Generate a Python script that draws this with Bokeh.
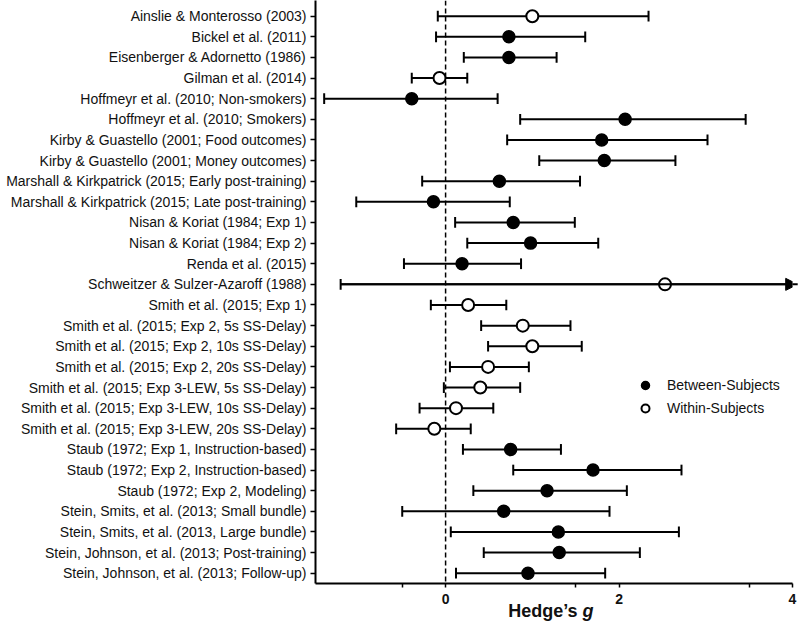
from bokeh.plotting import figure
from bokeh.layouts import column
from bokeh.models import (Range1d, FixedTicker, Span, Arrow, NormalHead, Legend,
                          LegendItem, ColumnDataSource)
from bokeh.core.properties import value
from bokeh.embed import file_html
from bokeh.resources import INLINE

studies = [
    "Ainslie & Monterosso (2003)",
    "Bickel et al. (2011)",
    "Eisenberger & Adornetto (1986)",
    "Gilman et al. (2014)",
    "Hoffmeyr et al. (2010; Non-smokers)",
    "Hoffmeyr et al. (2010; Smokers)",
    "Kirby & Guastello (2001; Food outcomes)",
    "Kirby & Guastello (2001; Money outcomes)",
    "Marshall & Kirkpatrick (2015; Early post-training)",
    "Marshall & Kirkpatrick (2015; Late post-training)",
    "Nisan & Koriat (1984; Exp 1)",
    "Nisan & Koriat (1984; Exp 2)",
    "Renda et al. (2015)",
    "Schweitzer & Sulzer-Azaroff (1988)",
    "Smith et al. (2015; Exp 1)",
    "Smith et al. (2015; Exp 2, 5s SS-Delay)",
    "Smith et al. (2015; Exp 2, 10s SS-Delay)",
    "Smith et al. (2015; Exp 2, 20s SS-Delay)",
    "Smith et al. (2015; Exp 3-LEW, 5s SS-Delay)",
    "Smith et al. (2015; Exp 3-LEW, 10s SS-Delay)",
    "Smith et al. (2015; Exp 3-LEW, 20s SS-Delay)",
    "Staub (1972; Exp 1, Instruction-based)",
    "Staub (1972; Exp 2, Instruction-based)",
    "Staub (1972; Exp 2, Modeling)",
    "Stein, Smits, et al. (2013; Small bundle)",
    "Stein, Smits, et al. (2013, Large bundle)",
    "Stein, Johnson, et al. (2013; Post-training)",
    "Stein, Johnson, et al. (2013; Follow-up)",
]
hedges_g = [1.00, 0.73, 0.73, -0.07, -0.39, 2.07, 1.80, 1.83, 0.62, -0.14,
            0.78, 0.98, 0.19, 2.53, 0.26, 0.89, 1.00, 0.49, 0.40, 0.12,
            -0.13, 0.75, 1.70, 1.17, 0.67, 1.30, 1.31, 0.95]
ci_low = [-0.09, -0.11, 0.21, -0.39, -1.40, 0.86, 0.71, 1.08, -0.27, -1.03,
          0.11, 0.25, -0.48, -1.21, -0.17, 0.41, 0.49, 0.05, -0.02, -0.30,
          -0.57, 0.20, 0.78, 0.32, -0.50, 0.06, 0.44, 0.12]
ci_high = [2.34, 1.61, 1.28, 0.25, 0.60, 3.46, 3.02, 2.65, 1.55, 0.74,
           1.49, 1.76, 0.87, 6.27, 0.70, 1.44, 1.57, 0.96, 0.86, 0.55,
           0.29, 1.33, 2.72, 2.09, 1.89, 2.69, 2.24, 1.84]
design = ["W", "B", "B", "W", "B", "B", "B", "B", "B", "B",
          "B", "B", "B", "W", "W", "W", "W", "W", "W", "W",
          "W", "B", "B", "B", "B", "B", "B", "B"]
x_ticks = [0, 2, 4]
x_minor_ticks = [-0.5, 1.5, 3.5]
x_title_main = "Hedge\u2019s "
x_title_var = "g"

XMIN, XMAX = -1.5, 4.0
rows = list(range(1, len(studies) + 1))
FONT = "Liberation Sans"
INK = "#111111"

p = figure(width=800, height=612, x_range=Range1d(XMIN, XMAX),
           y_range=Range1d(28.5, 0.24), output_backend="svg",
           toolbar_location=None, min_border_left=315, min_border_right=8,
           min_border_top=0, min_border_bottom=29)
p.xgrid.visible = False
p.ygrid.visible = False
p.outline_line_color = None

# y axis
p.yaxis.ticker = FixedTicker(ticks=rows)
p.yaxis.major_label_overrides = {r: s for r, s in zip(rows, studies)}
p.yaxis.minor_tick_line_color = None
p.yaxis.major_tick_out = 5
p.yaxis.major_tick_in = 0
p.yaxis.axis_line_width = 2
p.yaxis.major_tick_line_width = 1.5
p.yaxis.major_label_standoff = 4
p.yaxis.major_label_text_font = FONT
p.yaxis.major_label_text_font_size = "14px"
p.yaxis.major_label_text_color = INK

# x axis
p.xaxis.ticker = FixedTicker(ticks=x_ticks, minor_ticks=x_minor_ticks)
p.xaxis.major_tick_out = 4
p.xaxis.major_tick_in = 0
p.xaxis.minor_tick_out = 4
p.xaxis.minor_tick_in = 0
p.xaxis.axis_line_width = 2
p.xaxis.major_tick_line_width = 1.5
p.xaxis.minor_tick_line_width = 1.5
p.xaxis.major_label_standoff = 6
p.xaxis.major_label_text_font = FONT
p.xaxis.major_label_text_font_style = "bold"
p.xaxis.major_label_text_font_size = "14px"
p.xaxis.major_label_text_color = INK

# zero line
p.add_layout(Span(location=0, dimension="height", line_color="black",
                  line_width=1.5, line_dash="5 3", level="underlay"))

hi_clip = [min(h, XMAX) for h in ci_high]
p.segment(x0=ci_low, y0=rows, x1=hi_clip, y1=rows, line_color="black", line_width=2)
CAP = 0.26
p.segment(x0=ci_low, y0=[r - CAP for r in rows], x1=ci_low,
          y1=[r + CAP for r in rows], line_color="black", line_width=2)
cap_rows = [r for r, h in zip(rows, ci_high) if h <= XMAX]
cap_hi = [h for h in ci_high if h <= XMAX]
p.segment(x0=cap_hi, y0=[r - CAP for r in cap_rows], x1=cap_hi,
          y1=[r + CAP for r in cap_rows], line_color="black", line_width=2)
for r, lo, h in zip(rows, ci_low, ci_high):
    if h > XMAX:
        p.add_layout(Arrow(end=NormalHead(size=12, fill_color="black",
                                          line_color="black", line_width=1),
                           x_start=lo, y_start=r, x_end=XMAX + 0.06, y_end=r,
                           line_width=2, line_color="black"))

b_idx = [i for i, d in enumerate(design) if d == "B"]
w_idx = [i for i, d in enumerate(design) if d == "W"]
src_b = ColumnDataSource(dict(x=[hedges_g[i] for i in b_idx], y=[rows[i] for i in b_idx]))
src_w = ColumnDataSource(dict(x=[hedges_g[i] for i in w_idx], y=[rows[i] for i in w_idx]))
rb = p.scatter("x", "y", source=src_b, size=12, marker="circle",
               fill_color="black", line_color="black", line_width=1.5)
rw = p.scatter("x", "y", source=src_w, size=12, marker="circle",
               fill_color="white", line_color="black", line_width=2)

legend = Legend(items=[LegendItem(label="Between-Subjects", renderers=[rb]),
                       LegendItem(label="Within-Subjects", renderers=[rw])],
                location=(320, 165), glyph_width=20, glyph_height=20, spacing=3,
                label_standoff=12, padding=0, margin=0, border_line_color=None,
                background_fill_alpha=0, label_text_font=FONT,
                label_text_font_size="14px", label_text_color=INK)
p.add_layout(legend)

# axis title strip (bold "Hedge's" + bold-italic "g"), overlapping the
# empty bottom border of the main plot through a negative top margin
t = figure(width=800, height=30, x_range=p.x_range, y_range=Range1d(0, 1),
           output_backend="svg", toolbar_location=None, min_border_left=315,
           min_border_right=8, min_border_top=0, min_border_bottom=0,
           x_axis_type=None, y_axis_type=None)
t.margin = (-17, 0, 0, 0)
t.xgrid.visible = False
t.ygrid.visible = False
t.outline_line_color = None
t.background_fill_alpha = 0
t.border_fill_alpha = 0
t.text(x=[1.58], y=[0.5], text=[x_title_main], text_align="right",
       text_baseline="middle", text_font=value(FONT), text_font_style="bold",
       text_font_size="18px", text_color=INK)
t.text(x=[1.58], y=[0.5], text=[x_title_var], text_align="left",
       text_baseline="middle", text_font=value(FONT),
       text_font_style="bold italic", text_font_size="18px", text_color=INK)

layout = column(p, t, spacing=0)
open("out.html", "w").write(file_html(layout, INLINE))
